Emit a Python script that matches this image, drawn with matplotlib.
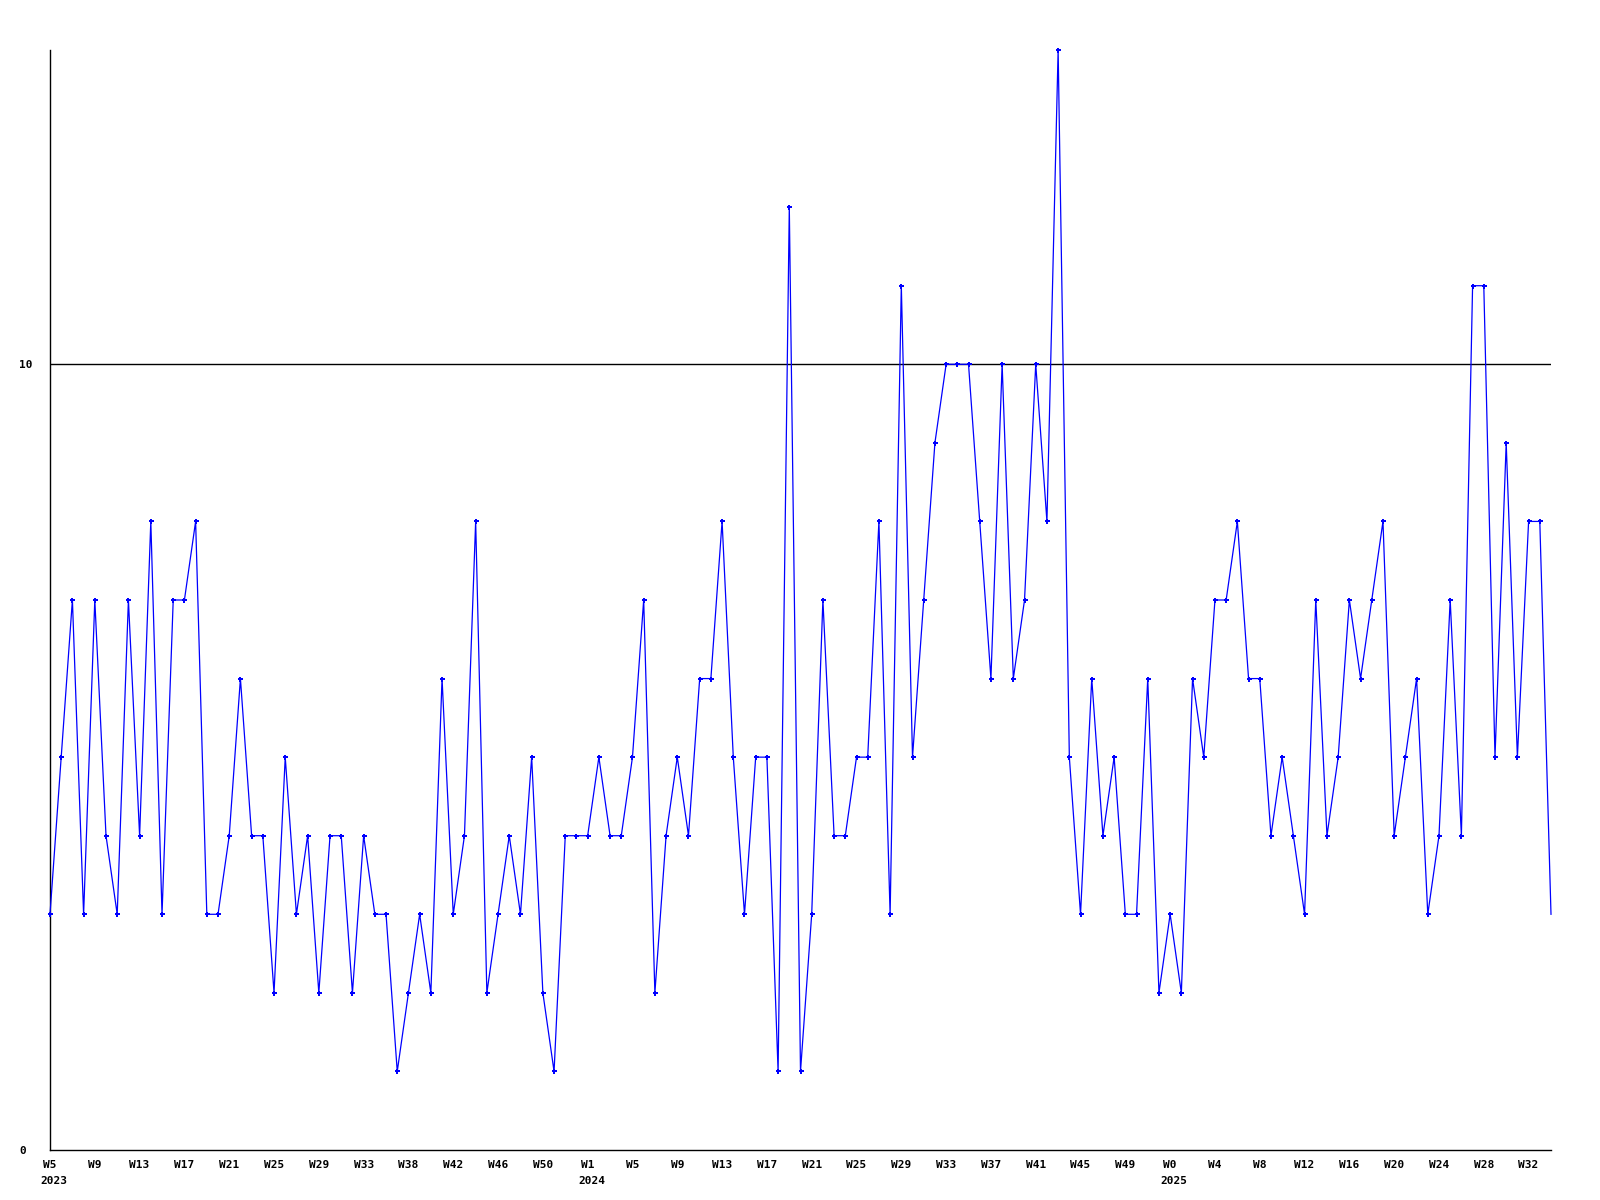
import numpy as np
import matplotlib
matplotlib.use("Agg")
import matplotlib.pyplot as plt

# weekly counts, 2023 W5 .. 2025 W34
values = [
    3, 5, 7, 3, 7, 4, 3, 7, 4, 8,
    3, 7, 7, 8, 3, 3, 4, 6, 4, 4,
    2, 5, 3, 4, 2, 4, 4, 2, 4, 3,
    3, 1, 2, 3, 2, 6, 3, 4, 8, 2,
    3, 4, 3, 5, 2, 1, 4, 4, 4, 5,
    4, 4, 5, 7, 2, 4, 5, 4, 6, 6,
    8, 5, 3, 5, 5, 1, 12, 1, 3, 7,
    4, 4, 5, 5, 8, 3, 11, 5, 7, 9,
    10, 10, 10, 8, 6, 10, 6, 7, 10, 8,
    14, 5, 3, 6, 4, 5, 3, 3, 6, 2,
    3, 2, 6, 5, 7, 7, 8, 6, 6, 4,
    5, 4, 3, 7, 4, 5, 7, 6, 7, 8,
    4, 5, 6, 3, 4, 7, 4, 11, 11, 5,
    9, 5, 8, 8, 3,
]

# one label every 4 weeks
week_labels = [
    "W5", "W9", "W13", "W17", "W21", "W25", "W29", "W33", "W38", "W42", "W46", "W50",
    "W1", "W5", "W9", "W13", "W17", "W21", "W25", "W29", "W33", "W37", "W41", "W45", "W49",
    "W0", "W4", "W8", "W12", "W16", "W20", "W24", "W28", "W32",
]
label_step = 4
year_labels = {0: "2023", 48: "2024", 100: "2025"}

y_ticks = [0, 10]
y_max = 14

plt.rcParams["font.family"] = "DejaVu Sans Mono"
plt.rcParams["font.weight"] = "bold"

fig = plt.figure(figsize=(16, 12), dpi=100)
ax = fig.add_axes([50 / 1600, 50 / 1200, 1501 / 1600, 1100 / 1200])

x = np.arange(len(values))
ax.plot(x, values, color="#0000ff", lw=0.9, marker="P", ms=3.6, mew=0,
        markevery=list(range(len(values) - 1)), clip_on=False, zorder=3)

ax.set_xlim(0, len(values) - 1)
ax.set_ylim(0, y_max)

ax.axhline(10, color="black", lw=1, zorder=2)

for side in ["top", "right"]:
    ax.spines[side].set_visible(False)
for side in ["left", "bottom"]:
    ax.spines[side].set_linewidth(1)
    ax.spines[side].set_color("black")

ax.set_yticks(y_ticks)
ax.set_yticklabels([str(v) for v in y_ticks])
ax.tick_params(axis="y", length=0, pad=22, labelsize=8)
for lab in ax.get_yticklabels():
    lab.set_horizontalalignment("left")

tick_pos = x[::label_step][:len(week_labels)]
ax.set_xticks(tick_pos)
ax.set_xticklabels(week_labels)
ax.tick_params(axis="x", length=0, pad=7, labelsize=8)

for idx, yr in year_labels.items():
    ax.annotate(yr, xy=(idx, 0), xycoords=("data", "axes fraction"),
                xytext=(-7, -19), textcoords="offset points",
                ha="left", va="top", fontsize=8, fontweight="bold")

fig.savefig("out.png", dpi=100, facecolor="white")
